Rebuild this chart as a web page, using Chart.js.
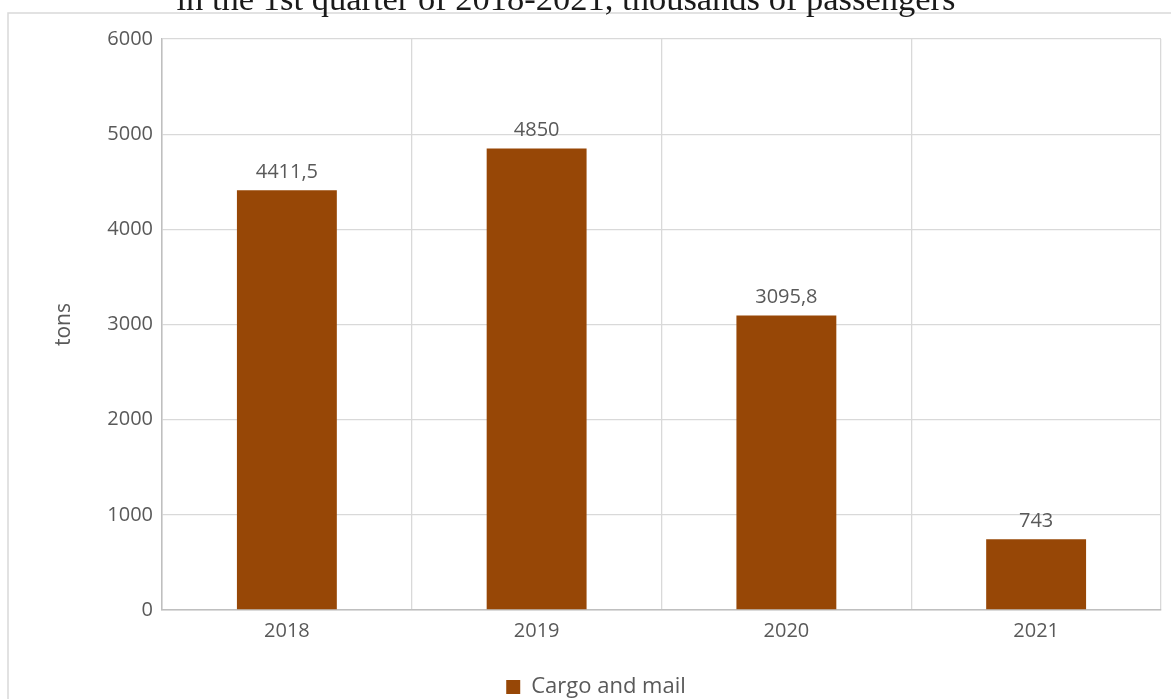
<!DOCTYPE html>
<html>
<head>
<meta charset="utf-8">
<script src="https://cdn.jsdelivr.net/npm/chart.js@4"></script>
<style>
html,body{margin:0;padding:0;background:#fff;overflow:hidden;}
#wrap{position:relative;width:1171px;height:699px;}
</style>
</head>
<body>
<div id="wrap"><canvas id="c" width="1171" height="699"></canvas></div>
<script>
const categories = ['2018', '2019', '2020', '2021'];
const cargoValues = [4411.5, 4850, 3095.8, 743];
const yTicks = [0, 1000, 2000, 3000, 4000, 5000, 6000];
const seriesName = 'Cargo and mail';
const yTitle = 'tons';
const chartTitle = 'in the 1st quarter of 2018-2021, thousands of passengers';

const FONT = "'Open Sans', sans-serif";
const TXT = '#595959';

const framePlugin = {
  id: 'frame',
  beforeDraw(chart) {
    const ctx = chart.ctx;
    ctx.save();
    ctx.strokeStyle = '#d9d9d9';
    ctx.lineWidth = 1.5;
    ctx.strokeRect(8, 13, 1300, 1000);
    ctx.fillStyle = '#1a1a1a';
    ctx.font = "34.5px 'Liberation Serif', serif";
    ctx.textAlign = 'center';
    ctx.textBaseline = 'alphabetic';
    ctx.fillText(chartTitle, 566, 10);
    ctx.restore();
  }
};

const labelPlugin = {
  id: 'valueLabels',
  afterDatasetsDraw(chart) {
    const ctx = chart.ctx;
    const meta = chart.getDatasetMeta(0);
    ctx.save();
    ctx.fillStyle = TXT;
    ctx.font = "20px " + FONT;
    ctx.textAlign = 'center';
    ctx.textBaseline = 'bottom';
    meta.data.forEach((bar, i) => {
      const txt = String(cargoValues[i]).replace('.', ',');
      ctx.fillText(txt, bar.x, bar.y - 8);
    });
    ctx.restore();
  }
};

new Chart(document.getElementById('c'), {
  type: 'bar',
  data: {
    labels: categories,
    datasets: [{
      label: seriesName,
      data: cargoValues,
      backgroundColor: '#974706',
      borderWidth: 0,
      barPercentage: 0.4,
      categoryPercentage: 1.0
    }]
  },
  options: {
    responsive: false,
    animation: false,
    devicePixelRatio: 1,
    layout: { padding: { left: 31, right: 10, top: 39, bottom: -9 } },
    plugins: {
      title: { display: false },
      tooltip: { enabled: false },
      legend: {
        position: 'bottom',
        labels: {
          color: TXT,
          font: { family: FONT, size: 22 },
          boxWidth: 14,
          boxHeight: 14,
          padding: 4
        }
      }
    },
    scales: {
      x: {
        grid: { color: '#d9d9d9', offset: true, drawTicks: false, lineWidth: 1.3 },
        border: { color: '#bfbfbf', width: 1.5 },
        ticks: { color: TXT, font: { family: FONT, size: 20 }, padding: 9 },
        afterFit(s) { s.height = 62; }
      },
      y: {
        min: 0,
        max: 6000,
        afterBuildTicks(s) { s.ticks = yTicks.map(v => ({ value: v })); },
        grid: { color: '#d9d9d9', drawTicks: false, lineWidth: 1.3 },
        border: { color: '#bfbfbf', width: 1.5 },
        ticks: { color: TXT, font: { family: FONT, size: 20 }, padding: 9, callback: v => String(v) },
        title: { display: true, text: yTitle, color: TXT, font: { family: FONT, size: 21 }, padding: { top: 20, bottom: 0 } },
        afterFit(s) { s.width = 131; }
      }
    }
  },
  plugins: [framePlugin, labelPlugin]
});
</script>
</body>
</html>
